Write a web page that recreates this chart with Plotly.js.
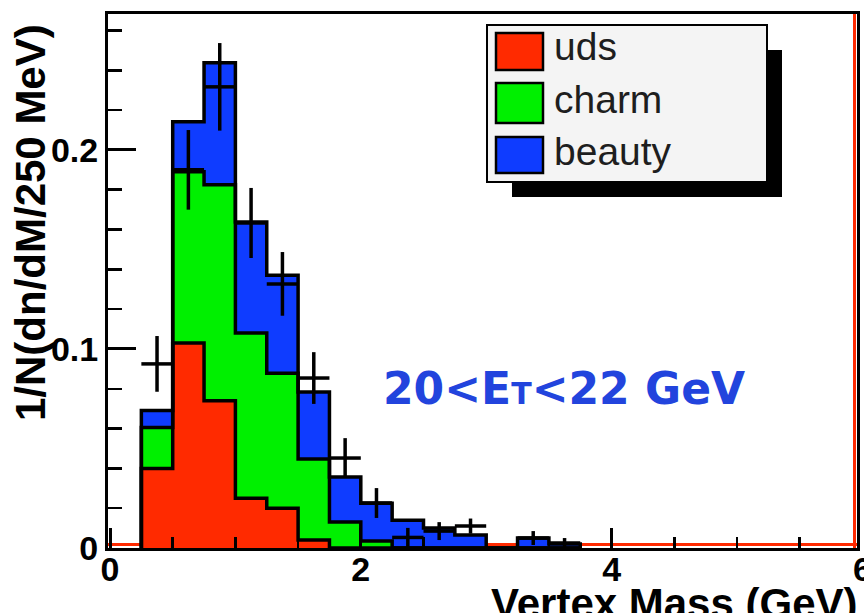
<!DOCTYPE html>
<html>
<head>
<meta charset="utf-8">
<script src="https://cdn.plot.ly/plotly-3.0.1.min.js"></script>
<style>html,body{margin:0;padding:0;background:#fff;}#chart{width:864px;height:613px;}</style>
</head>
<body>
<div id="chart"></div>
<script>
// ---- data ----
const binCenters = [0.375, 0.625, 0.875, 1.125, 1.375, 1.625, 1.875, 2.125, 2.375, 2.625, 2.875, 3.125, 3.375, 3.625];
const binWidth = 0.25;
const uds    = [0.040, 0.103, 0.074, 0.025, 0.020, 0.004, 0.000, 0.000, 0.000, 0.000, 0.000, 0.000, 0.000, 0.000];
const charm  = [0.0206, 0.086, 0.1085, 0.083, 0.0678, 0.0407, 0.0131, 0.0035, 0.000, 0.000, 0.000, 0.000, 0.000, 0.000];
const beauty = [0.0085, 0.0252, 0.0613, 0.0558, 0.0493, 0.0337, 0.0226, 0.019, 0.014, 0.010, 0.0065, 0.000, 0.005, 0.002];
const dataVals = [0.0925, 0.190, 0.2317, 0.1633, 0.1327, 0.0854, 0.0452, 0.0226, 0.0053, 0.0085, 0.011, null, 0.005, 0.0025];
const dataErr  = [0.014, 0.020, 0.022, 0.0176, 0.016, 0.013, 0.010, 0.0075, 0.0048, 0.0045, 0.0038, null, 0.0035, 0.0025];
const legendNames = ['uds', 'charm', 'beauty'];
const yTitle = '1/N(dn/dM/250 MeV)';
const xTitle = 'Vertex Mass (GeV)';
const xTickLabels = ['0', '2', '4', '6'];
const xTickValues = [0, 2, 4, 6];

// ---- style ----
const colors = ['#ff2a00', '#00f000', '#0f3cff'];
const W = 864, H = 613, ML = 108, MR = 7, MT = 14, MB = 65;
const PW = W - ML - MR, PH = H - MT - MB;
const xRange = [-0.016, 5.957];
const yRange = [0, 0.2683];
const px2x = p => (p - ML) / PW;
const py2y = p => 1 - (p - MT) / PH;
const boldFont = {family: 'Liberation Sans, Arial, sans-serif', size: 34, color: '#000', weight: 'bold'};

// cumulative stacks
const cum = [];
let run = binCenters.map(() => 0);
[uds, charm, beauty].forEach(s => { run = run.map((v, i) => v + s[i]); cum.push(run.slice()); });

function stepLine(vals) {
  const xs = [], ys = [];
  const n = binCenters.length;
  xs.push(binCenters[0] - binWidth / 2); ys.push(0);
  for (let i = 0; i < n; i++) { xs.push(binCenters[i] - binWidth / 2); ys.push(vals[i]); }
  xs.push(binCenters[n - 1] + binWidth / 2); ys.push(vals[n - 1]);
  xs.push(binCenters[n - 1] + binWidth / 2); ys.push(0);
  return {x: xs, y: ys, type: 'scatter', mode: 'lines', line: {shape: 'hv', color: '#000', width: 3.5}, hoverinfo: 'skip', showlegend: false};
}

const traces = [];
[uds, charm, beauty].forEach((s, k) => {
  traces.push({type: 'bar', x: binCenters, y: s, width: binWidth, name: legendNames[k],
    marker: {color: colors[k], line: {width: 0}}, showlegend: false});
});
cum.forEach(c => traces.push(stepLine(c)));
traces.push({type: 'scatter', mode: 'markers', x: binCenters, y: dataVals,
  marker: {size: 1, color: '#000'}, showlegend: false,
  error_x: {type: 'constant', value: binWidth / 2, thickness: 3.5, width: 0, color: '#000'},
  error_y: {type: 'data', array: dataErr, thickness: 3.5, width: 0, color: '#000'}});

const shapes = [
  // red zero line + red right edge
  {type: 'line', xref: 'paper', yref: 'paper', x0: 0, x1: 1, y0: py2y(544.5), y1: py2y(544.5), line: {color: colors[0], width: 3}, layer: 'below'},
  {type: 'line', xref: 'paper', yref: 'paper', x0: px2x(854.5), x1: px2x(854.5), y0: 0, y1: 1, line: {color: colors[0], width: 3}, layer: 'above'},
  // legend shadow and box
  {type: 'rect', xref: 'paper', yref: 'paper', x0: px2x(512), x1: px2x(782), y0: py2y(50), y1: py2y(197), fillcolor: '#000', line: {width: 0}},
  {type: 'rect', xref: 'paper', yref: 'paper', x0: px2x(487), x1: px2x(767), y0: py2y(25), y1: py2y(182), fillcolor: '#f4f4f4', line: {color: '#000', width: 2}}
];
const swatchY = [[33, 70], [83, 123], [137, 173]];
const labelY = [46, 99, 151];
const annotations = [];
legendNames.forEach((nm, k) => {
  shapes.push({type: 'rect', xref: 'paper', yref: 'paper', x0: px2x(496), x1: px2x(543), y0: py2y(swatchY[k][0]), y1: py2y(swatchY[k][1]),
    fillcolor: colors[k], line: {color: '#000', width: 2.5}});
  annotations.push({xref: 'paper', yref: 'paper', x: px2x(552), y: py2y(labelY[k]), xanchor: 'left', yanchor: 'middle', showarrow: false,
    text: nm, font: {family: 'Liberation Sans, Arial, sans-serif', size: 39, color: '#1e1e1e'}});
});
annotations.push({xref: 'paper', yref: 'paper', x: px2x(31), y: py2y(223), xanchor: 'center', yanchor: 'middle', textangle: -90, showarrow: false,
  text: yTitle, font: {family: 'Liberation Sans, Arial, sans-serif', size: 42, color: '#000', weight: 'bold'}});
annotations.push({xref: 'paper', yref: 'paper', x: px2x(860), y: py2y(578), xanchor: 'right', yanchor: 'top', showarrow: false,
  text: xTitle, font: {family: 'Liberation Sans, Arial, sans-serif', size: 42, color: '#000', weight: 'bold'}});
// last tick label lies just outside the drawn frame (cut by the picture edge)
annotations.push({xref: 'paper', yref: 'paper', x: (xTickValues[3] - xRange[0]) / (xRange[1] - xRange[0]), y: py2y(548), xanchor: 'center', yanchor: 'top', showarrow: false,
  text: xTickLabels[3], font: boldFont});
annotations.push({xref: 'paper', yref: 'paper', x: px2x(381), y: py2y(388), xanchor: 'left', yanchor: 'middle', showarrow: false,
  text: '20&lt;E<span style="font-size:30px">T</span>&lt;22 GeV', font: {family: 'DejaVu Sans, sans-serif', size: 44, color: '#2244dd', weight: 'bold'}});

const layout = {
  width: W, height: H, margin: {l: ML, r: MR, t: MT, b: MB, pad: 0},
  paper_bgcolor: '#fff', plot_bgcolor: '#fff', showlegend: false,
  barmode: 'stack', bargap: 0,
  xaxis: {range: xRange, showgrid: false, zeroline: false, showline: true, mirror: true, linecolor: '#000', linewidth: 3,
    tickmode: 'array', tickvals: xTickValues.slice(0, 3), ticktext: xTickLabels.slice(0, 3),
    ticks: 'inside', ticklen: 20, tickwidth: 3, tickcolor: '#000', tickfont: boldFont, ticklabelstandoff: -11,
    minor: {dtick: 0.5, tick0: 0, ticks: 'inside', ticklen: 11, tickwidth: 2.5, tickcolor: '#000', showgrid: false}},
  yaxis: {range: yRange, showgrid: false, zeroline: false, showline: true, mirror: true, linecolor: '#000', linewidth: 3,
    dtick: 0.1, tick0: 0, ticks: 'inside', ticklen: 28, tickwidth: 3, tickcolor: '#000', tickfont: boldFont,
    minor: {dtick: 0.02, tick0: 0, ticks: 'inside', ticklen: 14, tickwidth: 2.5, tickcolor: '#000', showgrid: false}},
  shapes: shapes, annotations: annotations
};
Plotly.newPlot('chart', traces, layout, {displayModeBar: false, staticPlot: true});
</script>
</body>
</html>
